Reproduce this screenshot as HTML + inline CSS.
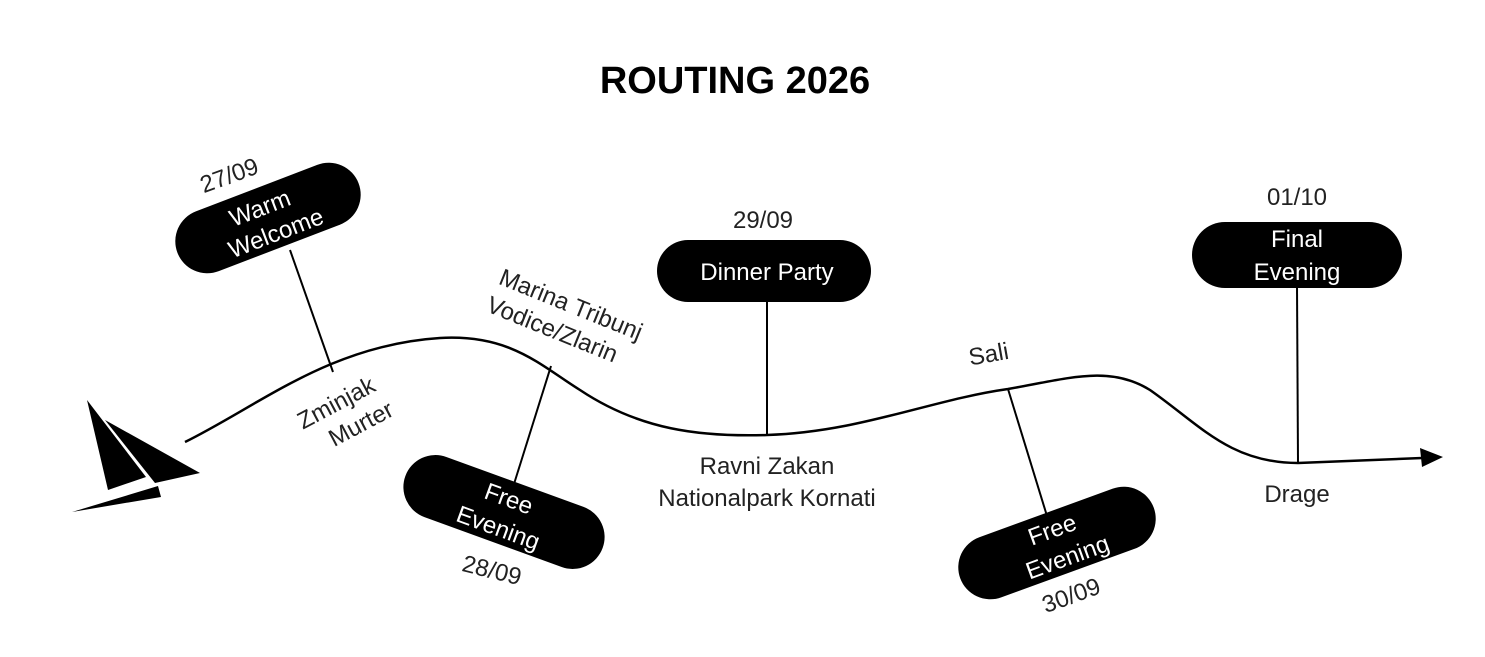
<!DOCTYPE html>
<html><head><meta charset="utf-8"><style>
html,body{margin:0;padding:0;background:#fff;}
svg{display:block;}
text{font-family:"Liberation Sans","DejaVu Sans",sans-serif;font-size:24px;fill:#222;}
.w{fill:#fff;}
</style></head><body>
<svg width="1485" height="657" viewBox="0 0 1485 657" xmlns="http://www.w3.org/2000/svg">
<text x="735" y="93" text-anchor="middle" style="font-size:38px;font-weight:bold;fill:#000">ROUTING 2026</text>

<path d="M185,442 C260,405 330,345 440,338 C510,334 540,365 580,390 C640,430 700,437 767,435 C860,432 930,400 1008,389 C1070,378 1110,365 1150,390 C1200,425 1230,463 1298,463 L1422,458" fill="none" stroke="#000" stroke-width="2.5"/>
<polygon points="1443,457 1420,448 1422,467" fill="#000"/>

<!-- sailboat -->
<polygon points="87,400 146,477 108,490" fill="#000"/>
<polygon points="105,420 200,473 155,483" fill="#000"/>
<polygon points="72,512 158,486 161,497" fill="#000"/>

<!-- connectors -->
<g stroke="#000" stroke-width="2">
<line x1="290" y1="250" x2="333" y2="372"/>
<line x1="551" y1="366" x2="514" y2="484"/>
<line x1="767" y1="300" x2="767" y2="435"/>
<line x1="1008" y1="389" x2="1047" y2="516"/>
<line x1="1297" y1="286" x2="1298" y2="463"/>
</g>

<!-- Warm Welcome -->
<g transform="translate(268,218) rotate(-21)">
<rect x="-97" y="-32" width="194" height="64" rx="32" fill="#000"/>
<text class="w" x="-4" y="-4" text-anchor="middle">Warm</text>
<text class="w" x="2" y="25" text-anchor="middle">Welcome</text>
</g>
<text x="0" y="0" text-anchor="middle" transform="translate(232,183) rotate(-20)">27/09</text>

<!-- Free Evening 28/09 -->
<g transform="translate(504,512) rotate(20)">
<rect x="-105" y="-32" width="210" height="64" rx="32" fill="#000"/>
<text class="w" x="0" y="-6" text-anchor="middle">Free</text>
<text class="w" x="0" y="25" text-anchor="middle">Evening</text>
</g>
<text x="0" y="0" text-anchor="middle" transform="translate(490,578) rotate(14)">28/09</text>

<!-- Dinner Party -->
<rect x="657" y="240" width="214" height="62" rx="31" fill="#000"/>
<text class="w" x="767" y="280" text-anchor="middle">Dinner Party</text>
<text x="763" y="228" text-anchor="middle">29/09</text>

<!-- Free Evening 30/09 -->
<g transform="translate(1057,543) rotate(-20)">
<rect x="-103" y="-32" width="206" height="64" rx="32" fill="#000"/>
<text class="w" x="0" y="-6" text-anchor="middle">Free</text>
<text class="w" x="5" y="25" text-anchor="middle">Evening</text>
</g>
<text x="0" y="0" text-anchor="middle" transform="translate(1074,603) rotate(-20)">30/09</text>

<!-- Final Evening -->
<rect x="1192" y="222" width="210" height="66" rx="33" fill="#000"/>
<text class="w" x="1297" y="247" text-anchor="middle">Final</text>
<text class="w" x="1297" y="280" text-anchor="middle">Evening</text>
<text x="1297" y="205" text-anchor="middle">01/10</text>

<!-- place labels -->
<g transform="translate(340,410) rotate(-28)">
<text x="0" y="0" text-anchor="middle">Zminjak</text>
<text x="12" y="30" text-anchor="middle">Murter</text>
</g>
<g transform="translate(568,312) rotate(22)">
<text x="0" y="0" text-anchor="middle">Marina Tribunj</text>
<text x="-8" y="30" text-anchor="middle">Vodice/Zlarin</text>
</g>
<text x="767" y="474" text-anchor="middle">Ravni Zakan</text>
<text x="767" y="506" text-anchor="middle">Nationalpark Kornati</text>
<text x="0" y="0" text-anchor="middle" transform="translate(990,362) rotate(-10)">Sali</text>
<text x="1297" y="502" text-anchor="middle">Drage</text>
</svg>
</body></html>
